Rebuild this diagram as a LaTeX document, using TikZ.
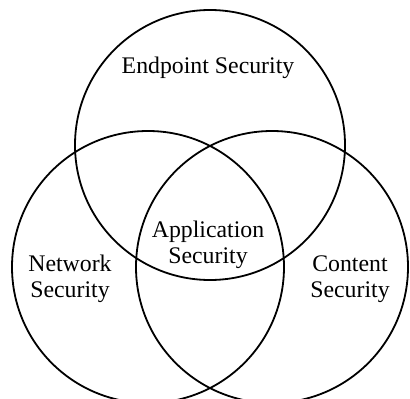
\documentclass[tikz,border=0pt]{standalone}
\usepackage{fontspec}
\setmainfont{Liberation Serif}
\usetikzlibrary{positioning}

\begin{document}
\begin{tikzpicture}[
   x = 1pt, y = -1pt,
   set/.style = {draw, line width = 1.8pt},
   setname/.style = {align = center, inner sep = 0pt, anchor = base,
      font = \fontsize{23.8}{25.5}\selectfont}]
   \useasboundingbox (0,0) rectangle (410,399);

   \coordinate (endpoint) at (210,145);
   \coordinate (network)  at (148,267);
   \coordinate (content)  at (272,267);

   \draw[set] (endpoint) circle (135pt);
   \draw[set] (network)  circle (136pt);
   \draw[set] (content)  circle (136pt);

   % base of a two-line name is its second line
   \node[setname] (endpointname) at (208,73)  {Endpoint Security};
   \node[setname] (appname)      at (208,263) {Application\\Security};
   \node[setname] (networkname)  at (70,297)  {Network\\Security};
   \node[setname] (contentname)  at (350,297) {Content\\Security};
\end{tikzpicture}
\end{document}
